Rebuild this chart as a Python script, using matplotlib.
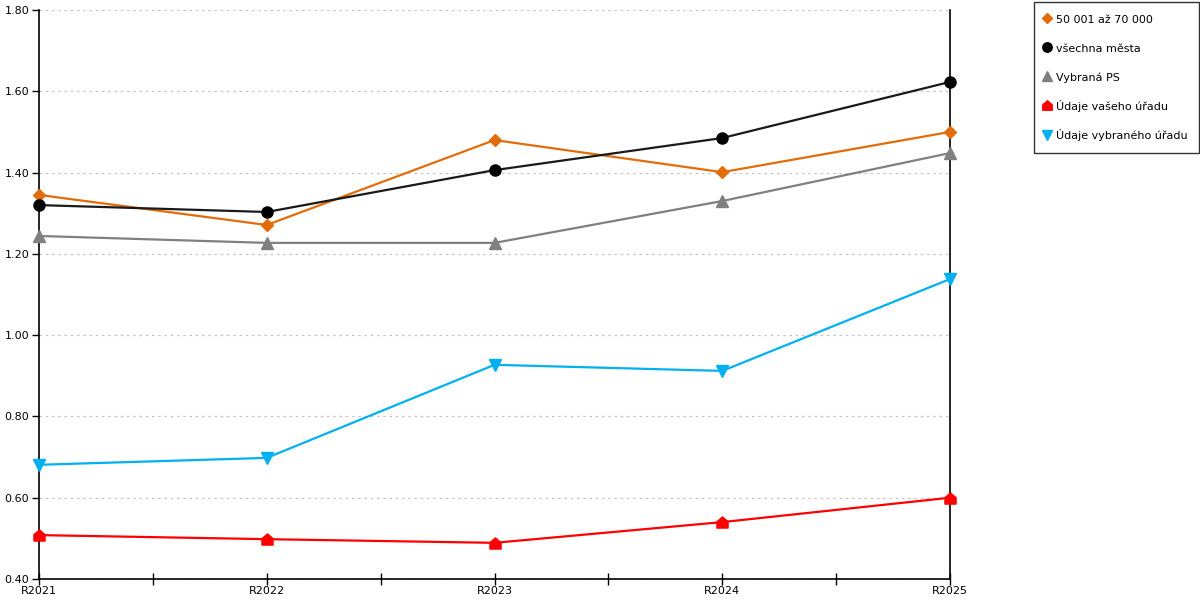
import matplotlib
matplotlib.use("Agg")
import matplotlib.pyplot as plt
from matplotlib.path import Path
from matplotlib.ticker import MultipleLocator, FixedLocator

categories = ["R2021", "R2022", "R2023", "R2024", "R2025"]
s_50001 = [1.345, 1.271, 1.480, 1.401, 1.500]
s_vsechna = [1.320, 1.303, 1.406, 1.485, 1.623]
s_vybrana_ps = [1.244, 1.227, 1.227, 1.330, 1.448]
s_vaseho = [0.508, 0.498, 0.489, 0.540, 0.600]
s_vybraneho = [0.681, 0.698, 0.927, 0.912, 1.138]

names = ["50 001 až 70 000", "všechna města", "Vybraná PS",
         "Údaje vašeho úřadu", "Údaje vybraného úřadu"]

house = Path([(-1, -1), (1, -1), (1, 0.15), (0, 1), (-1, 0.15), (-1, -1)],
             [Path.MOVETO, Path.LINETO, Path.LINETO, Path.LINETO, Path.LINETO, Path.CLOSEPOLY])

styles = [
    dict(color="#E36C0A", marker="D", ms=6.5),
    dict(color="#1a1a1a", marker="o", ms=8, mfc="black", mec="black"),
    dict(color="#808080", marker="^", ms=8.5),
    dict(color="#FF0000", marker=house, ms=8),
    dict(color="#00B0F0", marker="v", ms=8.5),
]
series = [s_50001, s_vsechna, s_vybrana_ps, s_vaseho, s_vybraneho]

plt.rcParams["font.family"] = ["DejaVu Sans"]
fig = plt.figure(figsize=(12, 6), dpi=100)
ax = fig.add_axes([39/1200, 1-579/600, (950-39)/1200, (579-10)/600])

x = list(range(len(categories)))
handles = []
for vals, st, nm in zip(series, styles, names):
    h, = ax.plot(x, vals, lw=1.6, label=nm, clip_on=False, zorder=3, **st)
    handles.append(h)

ax.set_xlim(0, len(categories) - 1)
ax.set_ylim(0.4, 1.8)
ax.yaxis.set_major_locator(MultipleLocator(0.2))
ax.yaxis.set_major_formatter(matplotlib.ticker.FormatStrFormatter("%.2f"))
ax.set_xticks(x)
ax.set_xticklabels(categories)
ax.xaxis.set_minor_locator(FixedLocator([i + 0.5 for i in range(len(categories) - 1)]))

ax.grid(axis="y", color="#c4c4c4", linestyle=(0, (2, 3)), linewidth=0.9)
ax.grid(axis="x", visible=False)
ax.set_axisbelow(True)

ax.spines["top"].set_visible(False)
for side in ["left", "bottom", "right"]:
    ax.spines[side].set_color("black")
    ax.spines[side].set_linewidth(1.2)

ax.tick_params(axis="x", which="both", direction="inout", length=8, width=1, labelsize=8, pad=1, colors="black")
ax.tick_params(axis="y", which="major", direction="out", length=5, width=1, labelsize=8, pad=2, colors="black")
ax.tick_params(axis="y", right=False)

leg = fig.legend(handles=handles, loc="upper left", bbox_to_anchor=(1034/1200, 1-2/600),
                 frameon=True, fancybox=False, edgecolor="black", fontsize=8,
                 handlelength=0.2, handleheight=1.2, handletextpad=0.7, labelspacing=1.56,
                 borderpad=1.05, borderaxespad=0)
leg.get_frame().set_linewidth(1.0)
for line in leg.get_lines():
    line.set_linestyle("None")
    line.set_markersize(line.get_markersize() * 0.85)

fig.savefig("out.png", dpi=100)
